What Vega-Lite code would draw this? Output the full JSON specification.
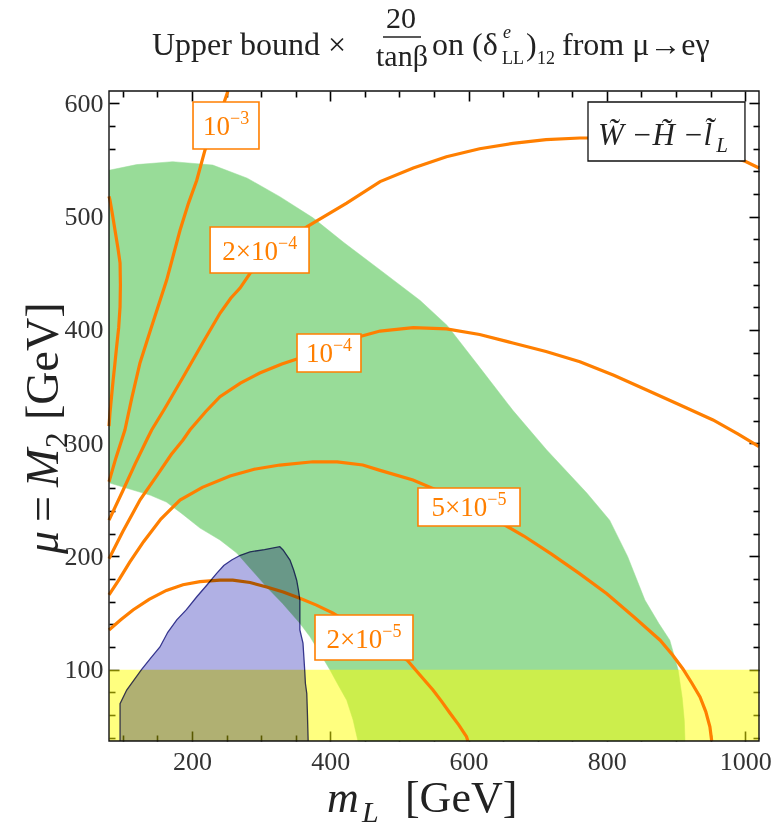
{
  "$schema": "https://vega.github.io/schema/vega-lite/v6.json",
  "width": 650,
  "height": 650,
  "autosize": {"type": "none"},
  "padding": {"left": 109, "top": 91, "right": 14, "bottom": 86},
  "background": "white",
  "config": {
    "view": {"stroke": null},
    "axis": {
      "grid": false,
      "domain": false,
      "ticks": true,
      "zindex": 2,
      "tickColor": "#000000",
      "tickWidth": 1.6,
      "tickOpacity": 1,
      "labelFont": "Liberation Serif",
      "labelFontSize": 26,
      "labelColor": "#333333"
    }
  },
  "resolve": {"axis": {"x": "independent", "y": "independent"}},
  "datasets": {
    "green": [
      {"i": 1, "x": 80, "y": 541}, {"i": 2, "x": 120, "y": 546}, {"i": 3, "x": 172, "y": 548.6},
      {"i": 4, "x": 230, "y": 545.6}, {"i": 5, "x": 280, "y": 534}, {"i": 6, "x": 327, "y": 517.7},
      {"i": 7, "x": 375, "y": 499}, {"i": 8, "x": 420, "y": 477}, {"i": 9, "x": 472, "y": 453},
      {"i": 10, "x": 530, "y": 426}, {"i": 11, "x": 569, "y": 404}, {"i": 12, "x": 616, "y": 367},
      {"i": 13, "x": 664, "y": 329}, {"i": 14, "x": 713, "y": 294}, {"i": 15, "x": 771, "y": 256},
      {"i": 16, "x": 804, "y": 232}, {"i": 17, "x": 830, "y": 200}, {"i": 18, "x": 855, "y": 161.5},
      {"i": 19, "x": 875, "y": 141}, {"i": 20, "x": 891, "y": 126}, {"i": 21, "x": 903, "y": 100},
      {"i": 22, "x": 909, "y": 75}, {"i": 23, "x": 912, "y": 55}, {"i": 24, "x": 913, "y": 37},
      {"i": 25, "x": 440, "y": 37}, {"i": 26, "x": 433, "y": 55.5}, {"i": 27, "x": 423.8, "y": 73},
      {"i": 28, "x": 410, "y": 88}, {"i": 29, "x": 399.6, "y": 99.7}, {"i": 30, "x": 385, "y": 114.7},
      {"i": 31, "x": 370.7, "y": 129}, {"i": 32, "x": 356, "y": 141}, {"i": 33, "x": 331, "y": 158.5},
      {"i": 34, "x": 308, "y": 173}, {"i": 35, "x": 285, "y": 189}, {"i": 36, "x": 264.7, "y": 203},
      {"i": 37, "x": 240.5, "y": 214.5}, {"i": 38, "x": 211.6, "y": 225}, {"i": 39, "x": 185, "y": 238},
      {"i": 40, "x": 163, "y": 248}, {"i": 41, "x": 140, "y": 254}, {"i": 42, "x": 114.7, "y": 258.6},
      {"i": 43, "x": 80, "y": 265}
    ],
    "blue": [
      {"i": 1, "x": 96, "y": 37}, {"i": 2, "x": 96, "y": 70}, {"i": 3, "x": 105.6, "y": 82},
      {"i": 4, "x": 127, "y": 100}, {"i": 5, "x": 140, "y": 110}, {"i": 6, "x": 153.7, "y": 120},
      {"i": 7, "x": 165, "y": 133}, {"i": 8, "x": 178, "y": 144}, {"i": 9, "x": 192, "y": 153},
      {"i": 10, "x": 207, "y": 164.4}, {"i": 11, "x": 222, "y": 175}, {"i": 12, "x": 235.7, "y": 185},
      {"i": 13, "x": 246, "y": 192}, {"i": 14, "x": 257.4, "y": 196.8}, {"i": 15, "x": 270, "y": 201},
      {"i": 16, "x": 284, "y": 204}, {"i": 17, "x": 305, "y": 206}, {"i": 18, "x": 327, "y": 208.6},
      {"i": 19, "x": 331.7, "y": 205.7}, {"i": 20, "x": 341.7, "y": 196.8}, {"i": 21, "x": 347, "y": 188},
      {"i": 22, "x": 351.4, "y": 179}, {"i": 23, "x": 354, "y": 170}, {"i": 24, "x": 356, "y": 161.5},
      {"i": 25, "x": 356, "y": 148}, {"i": 26, "x": 356, "y": 135}, {"i": 27, "x": 360.5, "y": 123.5},
      {"i": 28, "x": 363, "y": 99.7}, {"i": 29, "x": 364, "y": 88}, {"i": 30, "x": 366, "y": 79},
      {"i": 31, "x": 367, "y": 60}, {"i": 32, "x": 368, "y": 37}
    ],
    "contours": [
      {"c": "2e-3", "i": 1, "x": 80, "y": 518}, {"c": "2e-3", "i": 2, "x": 81.4, "y": 514.7},
      {"c": "2e-3", "i": 3, "x": 85, "y": 502}, {"c": "2e-3", "i": 4, "x": 88.7, "y": 488},
      {"c": "2e-3", "i": 5, "x": 93, "y": 472}, {"c": "2e-3", "i": 6, "x": 96, "y": 459},
      {"c": "2e-3", "i": 7, "x": 96.5, "y": 440}, {"c": "2e-3", "i": 8, "x": 96, "y": 420.5},
      {"c": "2e-3", "i": 9, "x": 94, "y": 402}, {"c": "2e-3", "i": 10, "x": 91, "y": 385},
      {"c": "2e-3", "i": 11, "x": 88.5, "y": 370}, {"c": "2e-3", "i": 12, "x": 86, "y": 355.8},
      {"c": "2e-3", "i": 13, "x": 83.5, "y": 340}, {"c": "2e-3", "i": 14, "x": 81.4, "y": 326.6},
      {"c": "2e-3", "i": 15, "x": 80, "y": 315},

      {"c": "1e-3", "i": 1, "x": 80, "y": 266}, {"c": "1e-3", "i": 2, "x": 90, "y": 287},
      {"c": "1e-3", "i": 3, "x": 103, "y": 311.6}, {"c": "1e-3", "i": 4, "x": 113, "y": 340},
      {"c": "1e-3", "i": 5, "x": 124.8, "y": 370.8}, {"c": "1e-3", "i": 6, "x": 140, "y": 400},
      {"c": "1e-3", "i": 7, "x": 163.4, "y": 444}, {"c": "1e-3", "i": 8, "x": 182.7, "y": 488},
      {"c": "1e-3", "i": 9, "x": 195, "y": 512}, {"c": "1e-3", "i": 10, "x": 206.8, "y": 532},
      {"c": "1e-3", "i": 11, "x": 218.8, "y": 558.9}, {"c": "1e-3", "i": 12, "x": 235, "y": 580},
      {"c": "1e-3", "i": 13, "x": 252, "y": 611},

      {"c": "2e-4", "i": 1, "x": 80, "y": 232}, {"c": "2e-4", "i": 2, "x": 100, "y": 258},
      {"c": "2e-4", "i": 3, "x": 118, "y": 282}, {"c": "2e-4", "i": 4, "x": 134.5, "y": 302.8},
      {"c": "2e-4", "i": 5, "x": 141.7, "y": 311.6}, {"c": "2e-4", "i": 6, "x": 160, "y": 330},
      {"c": "2e-4", "i": 7, "x": 187.5, "y": 358.7}, {"c": "2e-4", "i": 8, "x": 215, "y": 388},
      {"c": "2e-4", "i": 9, "x": 240.5, "y": 414.7}, {"c": "2e-4", "i": 10, "x": 256, "y": 428},
      {"c": "2e-4", "i": 11, "x": 269.5, "y": 437}, {"c": "2e-4", "i": 12, "x": 284, "y": 450},
      {"c": "2e-4", "i": 13, "x": 320, "y": 470}, {"c": "2e-4", "i": 14, "x": 366, "y": 491},
      {"c": "2e-4", "i": 15, "x": 423.7, "y": 512}, {"c": "2e-4", "i": 16, "x": 472, "y": 531},
      {"c": "2e-4", "i": 17, "x": 520, "y": 543}, {"c": "2e-4", "i": 18, "x": 568, "y": 553},
      {"c": "2e-4", "i": 19, "x": 616, "y": 560}, {"c": "2e-4", "i": 20, "x": 664, "y": 564.8},
      {"c": "2e-4", "i": 21, "x": 712, "y": 568}, {"c": "2e-4", "i": 22, "x": 761, "y": 569.5},
      {"c": "2e-4", "i": 23, "x": 810, "y": 569.5}, {"c": "2e-4", "i": 24, "x": 860, "y": 567},
      {"c": "2e-4", "i": 25, "x": 910, "y": 562}, {"c": "2e-4", "i": 26, "x": 960, "y": 556},
      {"c": "2e-4", "i": 27, "x": 1000, "y": 549}, {"c": "2e-4", "i": 28, "x": 1020, "y": 543},

      {"c": "1e-4", "i": 1, "x": 80, "y": 198}, {"c": "1e-4", "i": 2, "x": 100, "y": 222},
      {"c": "1e-4", "i": 3, "x": 125, "y": 250}, {"c": "1e-4", "i": 4, "x": 150, "y": 272},
      {"c": "1e-4", "i": 5, "x": 170, "y": 290}, {"c": "1e-4", "i": 6, "x": 187, "y": 302.8},
      {"c": "1e-4", "i": 7, "x": 197, "y": 311.6}, {"c": "1e-4", "i": 8, "x": 220, "y": 328},
      {"c": "1e-4", "i": 9, "x": 240.5, "y": 341}, {"c": "1e-4", "i": 10, "x": 270, "y": 353},
      {"c": "1e-4", "i": 11, "x": 298, "y": 362}, {"c": "1e-4", "i": 12, "x": 330, "y": 370},
      {"c": "1e-4", "i": 13, "x": 365, "y": 377}, {"c": "1e-4", "i": 14, "x": 398, "y": 384},
      {"c": "1e-4", "i": 15, "x": 430, "y": 392}, {"c": "1e-4", "i": 16, "x": 472, "y": 399},
      {"c": "1e-4", "i": 17, "x": 520, "y": 402}, {"c": "1e-4", "i": 18, "x": 568, "y": 401},
      {"c": "1e-4", "i": 19, "x": 616, "y": 396}, {"c": "1e-4", "i": 20, "x": 664, "y": 388.5},
      {"c": "1e-4", "i": 21, "x": 712, "y": 381}, {"c": "1e-4", "i": 22, "x": 761, "y": 372},
      {"c": "1e-4", "i": 23, "x": 810, "y": 360}, {"c": "1e-4", "i": 24, "x": 857.6, "y": 347},
      {"c": "1e-4", "i": 25, "x": 905, "y": 334}, {"c": "1e-4", "i": 26, "x": 953.5, "y": 320.5},
      {"c": "1e-4", "i": 27, "x": 990, "y": 308}, {"c": "1e-4", "i": 28, "x": 1020, "y": 297},

      {"c": "5e-5", "i": 1, "x": 80, "y": 166}, {"c": "5e-5", "i": 2, "x": 95, "y": 180},
      {"c": "5e-5", "i": 3, "x": 110, "y": 195}, {"c": "5e-5", "i": 4, "x": 130, "y": 213},
      {"c": "5e-5", "i": 5, "x": 155, "y": 233}, {"c": "5e-5", "i": 6, "x": 182.7, "y": 249.8},
      {"c": "5e-5", "i": 7, "x": 215, "y": 261}, {"c": "5e-5", "i": 8, "x": 255, "y": 271},
      {"c": "5e-5", "i": 9, "x": 290, "y": 277}, {"c": "5e-5", "i": 10, "x": 327, "y": 280.7},
      {"c": "5e-5", "i": 11, "x": 375, "y": 283.6}, {"c": "5e-5", "i": 12, "x": 410, "y": 283.5},
      {"c": "5e-5", "i": 13, "x": 447, "y": 280.7}, {"c": "5e-5", "i": 14, "x": 472, "y": 276},
      {"c": "5e-5", "i": 15, "x": 519.6, "y": 267.5}, {"c": "5e-5", "i": 16, "x": 560, "y": 257},
      {"c": "5e-5", "i": 17, "x": 600, "y": 245}, {"c": "5e-5", "i": 18, "x": 640, "y": 232},
      {"c": "5e-5", "i": 19, "x": 680, "y": 218}, {"c": "5e-5", "i": 20, "x": 720, "y": 202},
      {"c": "5e-5", "i": 21, "x": 760, "y": 185}, {"c": "5e-5", "i": 22, "x": 800, "y": 167},
      {"c": "5e-5", "i": 23, "x": 840, "y": 146}, {"c": "5e-5", "i": 24, "x": 877, "y": 126},
      {"c": "5e-5", "i": 25, "x": 895, "y": 113}, {"c": "5e-5", "i": 26, "x": 910, "y": 100.6},
      {"c": "5e-5", "i": 27, "x": 923, "y": 88}, {"c": "5e-5", "i": 28, "x": 934.7, "y": 76},
      {"c": "5e-5", "i": 29, "x": 943, "y": 63}, {"c": "5e-5", "i": 30, "x": 949, "y": 49.6},
      {"c": "5e-5", "i": 31, "x": 951.6, "y": 37},

      {"c": "2e-5", "i": 1, "x": 80, "y": 135}, {"c": "2e-5", "i": 2, "x": 97, "y": 144},
      {"c": "2e-5", "i": 3, "x": 114.7, "y": 152.7}, {"c": "2e-5", "i": 4, "x": 138, "y": 162},
      {"c": "2e-5", "i": 5, "x": 163, "y": 170}, {"c": "2e-5", "i": 6, "x": 187, "y": 175},
      {"c": "2e-5", "i": 7, "x": 211.6, "y": 177.7}, {"c": "2e-5", "i": 8, "x": 240.5, "y": 179},
      {"c": "2e-5", "i": 9, "x": 259, "y": 179}, {"c": "2e-5", "i": 10, "x": 284, "y": 177},
      {"c": "2e-5", "i": 11, "x": 308, "y": 173}, {"c": "2e-5", "i": 12, "x": 332, "y": 168.5},
      {"c": "2e-5", "i": 13, "x": 356, "y": 163}, {"c": "2e-5", "i": 14, "x": 380, "y": 157},
      {"c": "2e-5", "i": 15, "x": 404, "y": 150}, {"c": "2e-5", "i": 16, "x": 430, "y": 140},
      {"c": "2e-5", "i": 17, "x": 470, "y": 124}, {"c": "2e-5", "i": 18, "x": 511, "y": 108.5},
      {"c": "2e-5", "i": 19, "x": 530, "y": 95}, {"c": "2e-5", "i": 20, "x": 548.5, "y": 82},
      {"c": "2e-5", "i": 21, "x": 561, "y": 72}, {"c": "2e-5", "i": 22, "x": 573, "y": 61.7},
      {"c": "2e-5", "i": 23, "x": 586, "y": 51}, {"c": "2e-5", "i": 24, "x": 597, "y": 40.8},
      {"c": "2e-5", "i": 25, "x": 599, "y": 37}
    ],
    "labels": [
      {"base": "10", "exp": "−3", "jx": 255.0, "ty": 572.1, "bx1": 201.5, "bx2": 296.9, "by1": 559.8, "by2": 601.3},
      {"base": "2×10", "exp": "−4", "jx": 324.4, "ty": 461.8, "bx1": 226.2, "bx2": 369.3, "by1": 450.3, "by2": 490.9},
      {"base": "10", "exp": "−4", "jx": 403.9, "ty": 371.7, "bx1": 351.9, "bx2": 444.4, "by1": 362.9, "by2": 396.4},
      {"base": "5×10", "exp": "−5", "jx": 627.1, "ty": 235.7, "bx1": 526.8, "bx2": 674.4, "by1": 226.9, "by2": 260.4},
      {"base": "2×10", "exp": "−5", "jx": 475.2, "ty": 119.1, "bx1": 377.9, "bx2": 519.6, "by1": 108.5, "by2": 148.3}
    ]
  },
  "layer": [
    {
      "data": {"name": "green"},
      "mark": {"type": "line", "fill": "#98DC98", "stroke": "#98DC98", "strokeWidth": 0.5},
      "encoding": {
        "x": {"field": "x", "type": "quantitative", "scale": {"domain": [80, 1020], "nice": false, "zero": false},
              "axis": {"orient": "bottom", "offset": -10, "tickSize": 10, "labelPadding": 7, "values": [200, 400, 600, 800, 1000], "format": "d", "title": null, "labelFlush": false, "labelOverlap": false}},
        "y": {"field": "y", "type": "quantitative", "scale": {"domain": [37, 611], "nice": false, "zero": false},
              "axis": {"orient": "left", "offset": -10, "tickSize": 10, "labelPadding": 6, "values": [100, 200, 300, 400, 500, 600], "format": "d", "title": null, "labelFlush": false, "labelOverlap": false}},
        "order": {"field": "i", "type": "quantitative"}
      }
    },
    {
      "data": {"values": [{"x": 80, "x2": 1020, "y": 37, "y2": 100}]},
      "mark": {"type": "rect", "fill": "#FFFF00", "fillOpacity": 0.5},
      "encoding": {
        "x": {"field": "x", "type": "quantitative", "scale": {"domain": [80, 1020], "nice": false, "zero": false},
              "axis": {"orient": "top", "offset": -10, "tickSize": 10, "labels": false, "values": [200, 400, 600, 800, 1000], "title": null}},
        "x2": {"field": "x2"},
        "y": {"field": "y", "type": "quantitative", "scale": {"domain": [37, 611], "nice": false, "zero": false},
              "axis": {"orient": "right", "offset": -10, "tickSize": 10, "labels": false, "values": [100, 200, 300, 400, 500, 600], "title": null}},
        "y2": {"field": "y2"}
      }
    },
    {
      "data": {"name": "contours"},
      "mark": {"type": "line", "stroke": "#FF7F00", "strokeWidth": 3.2, "strokeCap": "butt"},
      "encoding": {
        "x": {"field": "x", "type": "quantitative", "scale": {"domain": [80, 1020], "nice": false, "zero": false},
              "axis": {"orient": "bottom", "offset": -6, "tickSize": 6, "labels": false, "values": [100, 150, 250, 300, 350, 450, 500, 550, 650, 700, 750, 850, 900, 950], "title": null}},
        "y": {"field": "y", "type": "quantitative", "scale": {"domain": [37, 611], "nice": false, "zero": false},
              "axis": {"orient": "left", "offset": -6, "tickSize": 6, "labels": false, "values": [40, 60, 80, 120, 140, 160, 180, 220, 240, 260, 280, 320, 340, 360, 380, 420, 440, 460, 480, 520, 540, 560, 580], "title": null}},
        "detail": {"field": "c"},
        "order": {"field": "i", "type": "quantitative"}
      }
    },
    {
      "data": {"name": "labels"},
      "mark": {"type": "rect", "fill": "white", "stroke": "#FF7F00", "strokeWidth": 1.6},
      "encoding": {
        "x": {"field": "bx1", "type": "quantitative", "scale": {"domain": [80, 1020], "nice": false, "zero": false},
              "axis": {"orient": "top", "offset": -6, "tickSize": 6, "labels": false, "values": [100, 150, 250, 300, 350, 450, 500, 550, 650, 700, 750, 850, 900, 950], "title": null}},
        "x2": {"field": "bx2"},
        "y": {"field": "by1", "type": "quantitative", "scale": {"domain": [37, 611], "nice": false, "zero": false},
              "axis": {"orient": "right", "offset": -6, "tickSize": 6, "labels": false, "values": [40, 60, 80, 120, 140, 160, 180, 220, 240, 260, 280, 320, 340, 360, 380, 420, 440, 460, 480, 520, 540, 560, 580], "title": null}},
        "y2": {"field": "by2"}
      }
    },
    {
      "data": {"name": "labels"},
      "mark": {"type": "text", "align": "right", "baseline": "alphabetic", "font": "Liberation Serif", "fontSize": 27, "color": "#FF7F00"},
      "encoding": {
        "x": {"field": "jx", "type": "quantitative", "axis": null},
        "y": {"field": "ty", "type": "quantitative", "axis": null},
        "text": {"field": "base"}
      }
    },
    {
      "data": {"name": "labels"},
      "mark": {"type": "text", "align": "left", "baseline": "alphabetic", "font": "Liberation Serif", "fontSize": 18, "dy": -11, "color": "#FF7F00"},
      "encoding": {
        "x": {"field": "jx", "type": "quantitative", "axis": null},
        "y": {"field": "ty", "type": "quantitative", "axis": null},
        "text": {"field": "exp"}
      }
    },
    {
      "data": {"name": "blue"},
      "mark": {"type": "line", "fill": "#B0B0E4", "stroke": "#36368F", "strokeWidth": 1.3, "blend": "multiply"},
      "encoding": {
        "x": {"field": "x", "type": "quantitative", "axis": null},
        "y": {"field": "y", "type": "quantitative", "axis": null},
        "order": {"field": "i", "type": "quantitative"}
      }
    },
    {
      "data": {"values": [{"x": 772.7, "x2": 999.7, "y": 549.2, "y2": 601.3}]},
      "mark": {"type": "rect", "fill": "white", "stroke": "#111111", "strokeWidth": 1.3},
      "encoding": {
        "x": {"field": "x", "type": "quantitative", "axis": null},
        "x2": {"field": "x2"},
        "y": {"field": "y", "type": "quantitative", "axis": null},
        "y2": {"field": "y2"}
      }
    },
    {
      "data": {"values": [{"x": 80, "x2": 1020, "y": 37, "y2": 611}]},
      "mark": {"type": "rect", "filled": false, "stroke": "#111111", "strokeWidth": 1.4},
      "encoding": {
        "x": {"field": "x", "type": "quantitative", "axis": null},
        "x2": {"field": "x2"},
        "y": {"field": "y", "type": "quantitative", "axis": null},
        "y2": {"field": "y2"}
      }
    },
    {
      "data": {"values": [{"x": 787.2, "y": 563.3, "t": "W̃ −H̃ −l̃"}]},
      "mark": {"type": "text", "align": "left", "baseline": "alphabetic", "font": "Liberation Serif", "fontStyle": "italic", "fontSize": 31, "color": "#222222"},
      "encoding": {
        "x": {"field": "x", "type": "quantitative", "axis": null},
        "y": {"field": "y", "type": "quantitative", "axis": null},
        "text": {"field": "t"}
      }
    },
    {
      "data": {"values": [{"x": 958, "y": 557.1, "t": "L"}]},
      "mark": {"type": "text", "align": "left", "baseline": "alphabetic", "font": "Liberation Serif", "fontStyle": "italic", "fontSize": 21, "color": "#222222"},
      "encoding": {
        "x": {"field": "x", "type": "quantitative", "axis": null},
        "y": {"field": "y", "type": "quantitative", "axis": null},
        "text": {"field": "t"}
      }
    },
    {
      "data": {"values": [
        {"x": 142.2, "y": 642.8, "t": "Upper bound ×"},
        {"x": 547.1, "y": 642.8, "t": "on (δ"},
        {"x": 683, "y": 642.8, "t": ")"},
        {"x": 735.1, "y": 642.8, "t": "from μ→eγ"}
      ]},
      "mark": {"type": "text", "align": "left", "baseline": "alphabetic", "font": "Liberation Serif", "fontSize": 32, "color": "#222222"},
      "encoding": {
        "x": {"field": "x", "type": "quantitative", "axis": null},
        "y": {"field": "y", "type": "quantitative", "axis": null},
        "text": {"field": "t"}
      }
    },
    {
      "data": {"values": [
        {"x": 502.3, "y": 666.6, "t": "20"},
        {"x": 503.7, "y": 633.1, "t": "tanβ"}
      ]},
      "mark": {"type": "text", "align": "center", "baseline": "alphabetic", "font": "Liberation Serif", "fontSize": 30, "color": "#222222"},
      "encoding": {
        "x": {"field": "x", "type": "quantitative", "axis": null},
        "y": {"field": "y", "type": "quantitative", "axis": null},
        "text": {"field": "t"}
      }
    },
    {
      "data": {"values": [{"x": 476.2, "x2": 531.2, "y": 658.7}]},
      "mark": {"type": "rule", "stroke": "#222222", "strokeWidth": 1.3},
      "encoding": {
        "x": {"field": "x", "type": "quantitative", "axis": null},
        "x2": {"field": "x2"},
        "y": {"field": "y", "type": "quantitative", "axis": null}
      }
    },
    {
      "data": {"values": [
        {"x": 648.3, "y": 634.9, "t": "LL"},
        {"x": 699, "y": 634.9, "t": "12"}
      ]},
      "mark": {"type": "text", "align": "left", "baseline": "alphabetic", "font": "Liberation Serif", "fontSize": 18, "color": "#222222"},
      "encoding": {
        "x": {"field": "x", "type": "quantitative", "axis": null},
        "y": {"field": "y", "type": "quantitative", "axis": null},
        "text": {"field": "t"}
      }
    },
    {
      "data": {"values": [{"x": 649.8, "y": 657.8, "t": "e"}]},
      "mark": {"type": "text", "align": "left", "baseline": "alphabetic", "font": "Liberation Serif", "fontStyle": "italic", "fontSize": 18, "color": "#222222"},
      "encoding": {
        "x": {"field": "x", "type": "quantitative", "axis": null},
        "y": {"field": "y", "type": "quantitative", "axis": null},
        "text": {"field": "t"}
      }
    },
    {
      "data": {"values": [{"x": 508, "y": -25.7, "t": "[GeV]"}]},
      "mark": {"type": "text", "align": "left", "baseline": "alphabetic", "font": "Liberation Serif", "fontSize": 44, "color": "#222222"},
      "encoding": {
        "x": {"field": "x", "type": "quantitative", "axis": null},
        "y": {"field": "y", "type": "quantitative", "axis": null},
        "text": {"field": "t"}
      }
    },
    {
      "data": {"values": [{"x": 395.3, "y": -25.7, "t": "m"}]},
      "mark": {"type": "text", "align": "left", "baseline": "alphabetic", "font": "Liberation Serif", "fontStyle": "italic", "fontSize": 44, "color": "#222222"},
      "encoding": {
        "x": {"field": "x", "type": "quantitative", "axis": null},
        "y": {"field": "y", "type": "quantitative", "axis": null},
        "text": {"field": "t"}
      }
    },
    {
      "data": {"values": [{"x": 445.9, "y": -34.5, "t": "L"}]},
      "mark": {"type": "text", "align": "left", "baseline": "alphabetic", "font": "Liberation Serif", "fontStyle": "italic", "fontSize": 30, "color": "#222222"},
      "encoding": {
        "x": {"field": "x", "type": "quantitative", "axis": null},
        "y": {"field": "y", "type": "quantitative", "axis": null},
        "text": {"field": "t"}
      }
    },
    {
      "data": {"values": [
        {"x": 6.25, "y": 202.1, "t": "μ"},
        {"x": 6.25, "y": 261.3, "t": "M"}
      ]},
      "mark": {"type": "text", "angle": 270, "align": "left", "baseline": "alphabetic", "font": "Liberation Serif", "fontStyle": "italic", "fontSize": 46, "color": "#222222"},
      "encoding": {
        "x": {"field": "x", "type": "quantitative", "axis": null},
        "y": {"field": "y", "type": "quantitative", "axis": null},
        "text": {"field": "t"}
      }
    },
    {
      "data": {"values": [
        {"x": 6.25, "y": 230.4, "t": "="},
        {"x": 6.25, "y": 320.5, "t": "[GeV]"}
      ]},
      "mark": {"type": "text", "angle": 270, "align": "left", "baseline": "alphabetic", "font": "Liberation Serif", "fontSize": 46, "color": "#222222"},
      "encoding": {
        "x": {"field": "x", "type": "quantitative", "axis": null},
        "y": {"field": "y", "type": "quantitative", "axis": null},
        "text": {"field": "t"}
      }
    },
    {
      "data": {"values": [{"x": 6.25, "y": 295.7, "t": "2"}]},
      "mark": {"type": "text", "angle": 270, "align": "left", "baseline": "alphabetic", "dy": 9, "font": "Liberation Serif", "fontSize": 31, "color": "#222222"},
      "encoding": {
        "x": {"field": "x", "type": "quantitative", "axis": null},
        "y": {"field": "y", "type": "quantitative", "axis": null},
        "text": {"field": "t"}
      }
    }
  ]
}
